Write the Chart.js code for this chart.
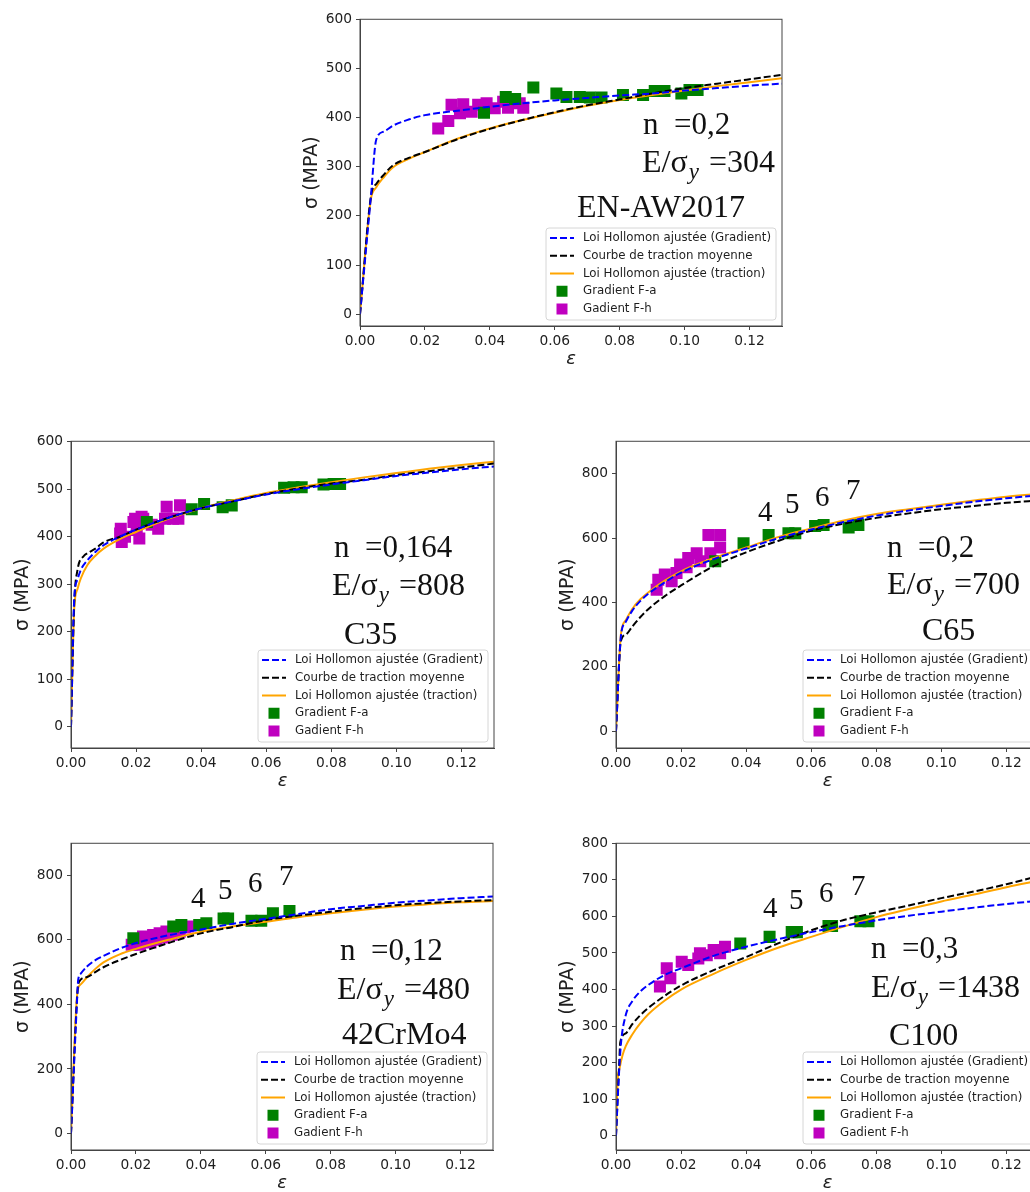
<!DOCTYPE html>
<html>
<head>
<meta charset="utf-8">
<script src="https://cdn.jsdelivr.net/npm/chart.js@4.4.1/dist/chart.umd.min.js"></script>
<style>
html, body { margin: 0; padding: 0; background: #fff; }
#page { position: relative; width: 1030px; height: 1192px; overflow: hidden; }
#page canvas { position: absolute; }
</style>
</head>
<body>
<div id="page">
<canvas id="c1" width="494" height="367" style="left:298px;top:7px"></canvas>
<canvas id="c2" width="495" height="367" style="left:9px;top:429px"></canvas>
<canvas id="c3" width="495" height="367" style="left:554px;top:429px"></canvas>
<canvas id="c4" width="494" height="367" style="left:9px;top:831px"></canvas>
<canvas id="c5" width="495" height="367" style="left:554px;top:831px"></canvas>
</div>
<script>
// ---- data (strain, stress MPa) ----
var strainTicks = [0, 0.02, 0.04, 0.06, 0.08, 0.10, 0.12];
var stressTicks600 = [0, 100, 200, 300, 400, 500, 600];
var stressTicks800 = [0, 200, 400, 600, 800];
var stressTicksC100 = [0, 100, 200, 300, 400, 500, 600, 700, 800];

var legendLabels = ['Loi Hollomon ajustée (Gradient)', 'Courbe de traction moyenne',
  'Loi Hollomon ajustée (traction)', 'Gradient F-a', 'Gadient F-h'];
var sectionLabels = ['4', '5', '6', '7'];

var materials = ['EN-AW2017', 'C35', 'C65', '42CrMo4', 'C100'];
var nValues = ['0,2', '0,164', '0,2', '0,12', '0,3'];
var ratios = ['304', '808', '700', '480', '1438'];

// EN-AW2017
var awGradient = [[0,0],[0.0033,235],[0.005,355],[0.0075,372],[0.01,383],[0.015,396],[0.02,405],[0.03,414],[0.04,422],[0.05,429],[0.06,435],[0.07,440],[0.08,445],[0.09,449],[0.10,455],[0.11,460],[0.12,465],[0.13,469]];
var awMean = [[0,0],[0.0035,245],[0.005,265],[0.0075,285],[0.01,302],[0.015,318],[0.02,330],[0.03,356],[0.04,377],[0.05,395],[0.06,411],[0.07,425],[0.08,437],[0.09,449],[0.10,460],[0.11,469],[0.12,478],[0.13,487]];
var awTraction = [[0,0],[0.0033,232],[0.005,258],[0.0075,280],[0.01,298],[0.015,316],[0.02,330],[0.03,357],[0.04,378],[0.05,395],[0.06,410],[0.07,424],[0.08,436],[0.09,446],[0.10,455],[0.11,464],[0.12,472],[0.13,480]];
var awFa = [[0.0449,442],[0.0478,438],[0.0382,410],[0.0534,461],[0.0605,449],[0.0636,442],[0.0677,442],[0.0708,441],[0.0744,441],[0.081,446],[0.0872,446],[0.0908,454],[0.0938,454],[0.099,449],[0.1015,456],[0.104,456]];
var awFh = [[0.0241,378],[0.0272,393],[0.0282,426],[0.0308,409],[0.0318,427],[0.0344,412],[0.0364,426],[0.039,429],[0.0415,419],[0.0441,432],[0.0456,420],[0.0492,429],[0.0503,420]];

// C35
var c35Gradient = [[0,0],[0.001,270],[0.002,310],[0.003,330],[0.005,350],[0.0075,368],[0.01,382],[0.015,400],[0.02,415],[0.03,440],[0.04,460],[0.05,475],[0.06,489],[0.07,500],[0.08,510],[0.09,519],[0.10,528],[0.11,535],[0.12,542],[0.13,548]];
var c35Mean = [[0,0],[0.001,260],[0.002,330],[0.004,360],[0.005,365],[0.0075,375],[0.01,388],[0.015,400],[0.02,415],[0.03,440],[0.04,460],[0.05,475],[0.06,490],[0.07,502],[0.08,512],[0.09,520],[0.10,530],[0.11,538],[0.12,546],[0.13,554]];
var c35Traction = [[0,0],[0.001,250],[0.002,290],[0.003,312],[0.005,340],[0.0075,360],[0.01,375],[0.015,395],[0.02,410],[0.03,438],[0.04,460],[0.05,477],[0.06,492],[0.07,504],[0.08,515],[0.09,525],[0.10,534],[0.11,543],[0.12,551],[0.13,558]];
var c35Fa = [[0.0233,431],[0.0371,458],[0.0409,469],[0.0466,462],[0.0494,466],[0.0655,503],[0.0684,504],[0.0709,504],[0.0776,510],[0.0807,511],[0.0827,511]];
var c35Fh = [[0.0151,407],[0.0153,417],[0.0156,389],[0.0166,400],[0.0192,431],[0.0197,438],[0.0202,414],[0.021,396],[0.0217,442],[0.0222,438],[0.0248,425],[0.0268,417],[0.0289,438],[0.0294,463],[0.0314,438],[0.033,438],[0.0335,466]];

// C65
var c65Gradient = [[0,0],[0.0015,295],[0.003,340],[0.005,375],[0.0075,405],[0.01,428],[0.015,463],[0.02,493],[0.03,535],[0.04,568],[0.05,600],[0.06,627],[0.07,650],[0.08,670],[0.09,686],[0.10,700],[0.11,713],[0.12,724],[0.13,733]];
var c65Mean = [[0,0],[0.0015,280],[0.003,300],[0.005,325],[0.0075,355],[0.01,380],[0.015,420],[0.02,453],[0.03,513],[0.04,556],[0.05,592],[0.06,623],[0.07,645],[0.08,663],[0.09,677],[0.10,690],[0.11,700],[0.12,710],[0.13,717]];
var c65Traction = [[0,0],[0.0015,300],[0.003,345],[0.005,380],[0.0075,410],[0.01,432],[0.015,468],[0.02,497],[0.03,538],[0.04,571],[0.05,604],[0.06,630],[0.07,655],[0.08,675],[0.09,690],[0.10,704],[0.11,717],[0.12,729],[0.13,738]];
var c65Fa = [[0.0305,528],[0.0392,584],[0.0469,610],[0.053,615],[0.0551,615],[0.0612,638],[0.0638,641],[0.0715,633],[0.0745,641]];
var c65Fh = [[0.0125,440],[0.013,471],[0.015,487],[0.0171,466],[0.0186,492],[0.0197,518],[0.0217,510],[0.0222,538],[0.0248,553],[0.0259,528],[0.029,553],[0.0284,610],[0.032,610],[0.032,571]];

// 42CrMo4
var crGradient = [[0,0],[0.002,440],[0.0022,475],[0.003,495],[0.005,518],[0.0075,537],[0.01,550],[0.015,573],[0.02,590],[0.03,614],[0.04,632],[0.05,650],[0.06,665],[0.07,680],[0.08,695],[0.09,705],[0.10,715],[0.11,722],[0.12,729],[0.13,734]];
var crMean = [[0,0],[0.002,440],[0.0025,470],[0.005,485],[0.0075,500],[0.01,515],[0.015,537],[0.02,556],[0.03,590],[0.04,620],[0.05,640],[0.06,661],[0.07,675],[0.08,687],[0.09,698],[0.10,707],[0.11,714],[0.12,719],[0.13,723]];
var crTraction = [[0,0],[0.002,440],[0.003,462],[0.005,485],[0.0075,510],[0.01,530],[0.015,555],[0.02,572],[0.03,600],[0.04,625],[0.05,642],[0.06,656],[0.07,670],[0.08,682],[0.09,693],[0.10,703],[0.11,710],[0.12,716],[0.13,720]];
var crFa = [[0.0192,605],[0.0315,641],[0.034,646],[0.0395,646],[0.0417,651],[0.047,666],[0.0484,666],[0.0556,659],[0.0586,659],[0.0622,682],[0.0673,689]];
var crFh = [[0.0187,585],[0.0202,595],[0.0212,585],[0.0222,610],[0.0237,605],[0.0245,592],[0.0253,615],[0.0263,600],[0.0273,620],[0.0285,607],[0.0294,626],[0.031,616],[0.0325,631],[0.0335,625],[0.035,638],[0.036,641]];

// C100
var c100Gradient = [[0,0],[0.0008,150],[0.0015,250],[0.003,330],[0.005,368],[0.0075,395],[0.01,413],[0.015,440],[0.02,458],[0.03,492],[0.04,517],[0.05,538],[0.06,557],[0.07,574],[0.08,589],[0.09,602],[0.10,613],[0.11,624],[0.12,634],[0.13,643]];
var c100Mean = [[0,0],[0.001,200],[0.0013,255],[0.003,280],[0.005,305],[0.0075,330],[0.01,350],[0.015,383],[0.02,411],[0.03,453],[0.04,489],[0.05,527],[0.06,562],[0.07,590],[0.08,611],[0.09,630],[0.10,650],[0.11,668],[0.12,688],[0.13,711]];
var c100Traction = [[0,0],[0.0005,150],[0.001,180],[0.002,220],[0.003,245],[0.005,277],[0.0075,308],[0.01,333],[0.015,370],[0.02,400],[0.03,443],[0.04,481],[0.05,515],[0.06,544],[0.07,572],[0.08,598],[0.09,620],[0.10,641],[0.11,660],[0.12,680],[0.13,698]];
var c100Fa = [[0.0382,526],[0.0472,544],[0.054,557],[0.0556,557],[0.0653,574],[0.0664,574],[0.0751,587],[0.0776,587]];
var c100Fh = [[0.0135,408],[0.0156,458],[0.0167,431],[0.0202,476],[0.0222,467],[0.0253,485],[0.0258,499],[0.0279,494],[0.03,508],[0.032,499],[0.0335,517]];

// ---- panel layout (pixel offsets of the pasted labels, relative to plot area) ----
var panels = [
  { id: 'c1', yMin: -24, yMax: 600, yTicks: stressTicks600, sets: [awGradient, awMean, awTraction, awFa, awFh],
    nAt: [283, 115], eAt: [282, 153], nameAt: [217, 198], digitsAt: null },
  { id: 'c2', yMin: -45, yMax: 601, yTicks: stressTicks600, sets: [c35Gradient, c35Mean, c35Traction, c35Fa, c35Fh],
    nAt: [263, 116], eAt: [261, 154], nameAt: [273, 203], digitsAt: null },
  { id: 'c3', yMin: -52, yMax: 901, yTicks: stressTicks800, sets: [c65Gradient, c65Mean, c65Traction, c65Fa, c65Fh],
    nAt: [271, 116], eAt: [271, 153], nameAt: [306, 199], digitsAt: [[142, 80], [169, 72], [199, 65], [230, 58]] },
  { id: 'c4', yMin: -51, yMax: 899, yTicks: stressTicks800, sets: [crGradient, crMean, crTraction, crFa, crFh],
    nAt: [269, 117], eAt: [266, 156], nameAt: [271, 201], digitsAt: [[120, 64], [147, 56], [177, 49], [208, 42]] },
  { id: 'c5', yMin: -39, yMax: 800, yTicks: stressTicksC100, sets: [c100Gradient, c100Mean, c100Traction, c100Fa, c100Fh],
    nAt: [255, 115], eAt: [255, 154], nameAt: [273, 202], digitsAt: [[147, 74], [173, 66], [203, 59], [235, 52]] }
];

var SANS = "'DejaVu Sans', sans-serif";
var SERIF = "'Liberation Serif', 'DejaVu Serif', serif";
var INK = '#1e1e1e';

// frame, in-axes legend and the serif annotations
var decorations = {
  id: 'decorations',
  afterDatasetsDraw: function (chart) {
    var a = chart.chartArea, ctx = chart.ctx;
    ctx.save();
    ctx.strokeStyle = '#444';
    ctx.lineWidth = 1;
    ctx.strokeRect(a.left, a.top, a.right - a.left, a.bottom - a.top);
    ctx.restore();
  },
  afterDraw: function (chart) {
    var a = chart.chartArea, ctx = chart.ctx;
    var p = chart.options.plugins.decorations;
    ctx.save();

    // legend box
    var w = 230, h = 92;
    var x0 = a.right - 6 - w, y0 = a.bottom - 6 - h;
    ctx.beginPath();
    ctx.roundRect(x0, y0, w, h, 3);
    ctx.fillStyle = 'rgba(255,255,255,0.8)';
    ctx.fill();
    ctx.strokeStyle = '#d6d6d6';
    ctx.lineWidth = 1;
    ctx.stroke();
    ctx.font = '11.8px ' + SANS;
    ctx.textBaseline = 'middle';
    chart.data.datasets.forEach(function (ds, i) {
      var cy = y0 + 10 + i * 17.75;
      if (ds.showLine) {
        ctx.strokeStyle = ds.borderColor;
        ctx.lineWidth = ds.borderWidth;
        ctx.setLineDash(ds.borderDash || []);
        ctx.beginPath();
        ctx.moveTo(x0 + 4, cy);
        ctx.lineTo(x0 + 28, cy);
        ctx.stroke();
        ctx.setLineDash([]);
      } else {
        ctx.fillStyle = ds.backgroundColor;
        ctx.fillRect(x0 + 16 - 5.5, cy - 5.5, 11, 11);
      }
      ctx.fillStyle = INK;
      ctx.fillText(ds.label, x0 + 37, cy);
    });

    // pasted annotations
    ctx.textBaseline = 'alphabetic';
    ctx.fillStyle = '#111';
    ctx.font = '31px ' + SERIF;
    ctx.fillText('n  =' + p.n, a.left + p.nAt[0], a.top + p.nAt[1]);
    var x = a.left + p.eAt[0], y = a.top + p.eAt[1];
    ctx.font = '32px ' + SERIF;
    ctx.fillText('E/σ', x, y);
    x += ctx.measureText('E/σ').width + 1;
    ctx.font = 'italic 23px ' + SERIF;
    ctx.fillText('y', x, y + 7);
    x += ctx.measureText('y').width + 2;
    ctx.font = '32px ' + SERIF;
    ctx.fillText(' =' + p.ratio, x, y);
    ctx.fillText(p.name, a.left + p.nameAt[0], a.top + p.nameAt[1]);
    if (p.digitsAt) {
      ctx.font = '29px ' + SERIF;
      sectionLabels.forEach(function (t, i) {
        ctx.fillText(t, a.left + p.digitsAt[i][0], a.top + p.digitsAt[i][1]);
      });
    }
    ctx.restore();
  }
};

function lineSet(label, data, color, dash) {
  return {
    label: label, data: data, showLine: true, pointRadius: 0, pointHoverRadius: 0,
    borderColor: color, borderWidth: 2, borderDash: dash, fill: false,
    cubicInterpolationMode: 'monotone'
  };
}

function squareSet(label, data, color) {
  return {
    label: label, data: data, showLine: false, pointStyle: 'rect',
    pointRadius: 8.5, pointHoverRadius: 8.5, backgroundColor: color, borderWidth: 0
  };
}

panels.forEach(function (cfg, k) {
  new Chart(document.getElementById(cfg.id), {
    type: 'scatter',
    data: {
      datasets: [
        lineSet(legendLabels[0], cfg.sets[0], '#0000ff', [7, 3]),
        lineSet(legendLabels[1], cfg.sets[1], '#000000', [7, 3]),
        lineSet(legendLabels[2], cfg.sets[2], '#ffa500', []),
        squareSet(legendLabels[3], cfg.sets[3], '#008000'),
        squareSet(legendLabels[4], cfg.sets[4], '#bf00bf')
      ]
    },
    options: {
      responsive: false,
      animation: false,
      events: [],
      layout: { padding: { top: 10, right: 10, bottom: 0, left: 0 } },
      scales: {
        x: {
          type: 'linear', min: 0, max: 0.13,
          afterBuildTicks: function (s) { s.ticks = strainTicks.map(function (v) { return { value: v }; }); },
          afterFit: function (s) { s.height = 48; },
          ticks: {
            color: INK, padding: 3, maxRotation: 0,
            font: { family: SANS, size: 13.8 },
            callback: function (v) { return Number(v).toFixed(2); }
          },
          grid: { display: true, drawOnChartArea: false, drawTicks: true, tickLength: 4, color: '#444' },
          border: { display: true, color: '#444' },
          title: {
            display: true, text: 'ε', color: INK,
            font: { family: SANS, size: 18, style: 'italic', lineHeight: 1 },
            padding: { top: 0, bottom: 6 }
          }
        },
        y: {
          type: 'linear', min: cfg.yMin, max: cfg.yMax,
          afterBuildTicks: function (s) { s.ticks = cfg.yTicks.map(function (v) { return { value: v }; }); },
          afterFit: function (s) { s.width = 62; },
          ticks: { color: INK, padding: 4, font: { family: SANS, size: 13.8 } },
          grid: { display: true, drawOnChartArea: false, drawTicks: true, tickLength: 4, color: '#444' },
          border: { display: true, color: '#444' },
          title: {
            display: true, text: 'σ (MPA)', color: INK,
            font: { family: SANS, size: 19, lineHeight: 1 },
            padding: { top: 4.5, bottom: 0 }
          }
        }
      },
      plugins: {
        legend: { display: false },
        tooltip: { enabled: false },
        decorations: {
          n: nValues[k], ratio: ratios[k], name: materials[k],
          nAt: cfg.nAt, eAt: cfg.eAt, nameAt: cfg.nameAt, digitsAt: cfg.digitsAt
        }
      }
    },
    plugins: [decorations]
  });
});
</script>
</body>
</html>
